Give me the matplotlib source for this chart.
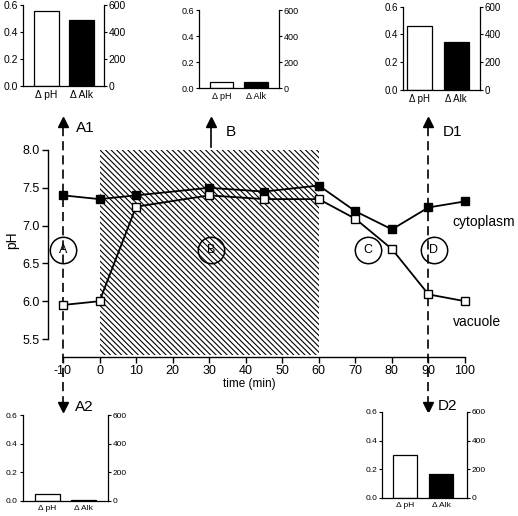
import matplotlib
matplotlib.use('Agg')
import matplotlib.pyplot as plt
import matplotlib.transforms as mtransforms
from matplotlib.patches import Rectangle

plt.rcParams['font.family'] = ['Liberation Sans', 'DejaVu Sans']
plt.rcParams['hatch.linewidth'] = 0.8
plt.rcParams['axes.unicode_minus'] = False

# ---- data ----
time = [-10, 0, 10, 30, 45, 60, 70, 80, 90, 100]
cytoplasm_pH = [7.40, 7.35, 7.40, 7.50, 7.45, 7.53, 7.19, 6.95, 7.24, 7.32]
vacuole_pH = [5.95, 6.00, 7.25, 7.40, 7.35, 7.35, 7.09, 6.69, 6.09, 6.00]
treatment_start, treatment_end = 0, 60
phase_labels = ['A', 'B', 'C', 'D']
phase_times = [-10, 30.5, 73.5, 91.5]
phase_level = 6.68
x_ticks = [-10, 0, 10, 20, 30, 40, 50, 60, 70, 80, 90, 100]
y_ticks = [5.5, 6.0, 6.5, 7.0, 7.5, 8.0]

inset_names = ['A1', 'B', 'D1', 'A2', 'D2']
bar_labels = ['Δ pH', 'Δ Alk']
delta_pH = [0.55, 0.05, 0.46, 0.05, 0.30]
delta_alk = [485, 45, 345, 8, 165]
left_ticks = [0.0, 0.2, 0.4, 0.6]
right_ticks = [0, 200, 400, 600]

W, H = 518, 516
fig = plt.figure(figsize=(W / 100, H / 100), dpi=100)


def px_axes(left, top, right, bottom):
    return fig.add_axes([left / W, 1 - bottom / H, (right - left) / W, (bottom - top) / H])


# ---- main axes ----
ax = px_axes(48, 145, 480, 357)
ax.set_xlim(-14.1, 104.1)
ax.set_ylim(5.262, 8.066)
ax.patch.set_alpha(0)

ax.add_patch(Rectangle((treatment_start, 5.29), treatment_end - treatment_start, 8.0 - 5.29,
                       fill=False, hatch='\\\\\\\\\\\\', edgecolor='black', linewidth=0, zorder=1))

ax.plot(time, cytoplasm_pH, '-s', color='black', mfc='black', mec='black', ms=5.5,
        lw=1.3, clip_on=False, zorder=4)
ax.plot(time, vacuole_pH, '-s', color='black', mfc='white', mec='black', ms=5.5, mew=1.0,
        lw=1.3, clip_on=False, zorder=4)

ax.plot(phase_times, [phase_level] * len(phase_times), 'o', mfc='none', mec='black',
        ms=19, mew=1.1, zorder=3)
for t, lab in zip(phase_times, phase_labels):
    ax.text(t, phase_level, lab, ha='center', va='center', fontsize=9, zorder=5)

for s in ['top', 'right']:
    ax.spines[s].set_visible(False)
ax.spines['left'].set_bounds(5.5, 8.0)
ax.spines['bottom'].set_bounds(-10, 100)
for s in ['left', 'bottom']:
    ax.spines[s].set_linewidth(1.0)
ax.set_xticks(x_ticks)
ax.set_yticks(y_ticks)
ax.set_yticklabels([f'{v:.1f}' for v in y_ticks])
ax.tick_params(direction='out', length=4, width=1.0, labelsize=9, pad=2)

ax.text(96.6, 7.05, 'cytoplasm', ha='left', va='center', fontsize=10)
ax.text(96.6, 5.725, 'vacuole', ha='left', va='center', fontsize=10)

trans = mtransforms.blended_transform_factory(ax.transData, ax.transAxes)


def fy(py):
    return (357 - py) / 212.0


ax.text(41, fy(384), 'time (min)', transform=trans, ha='center', va='center', fontsize=8.5)
fig.text(12 / W, 1 - 240 / H, 'pH', rotation=90, ha='center', va='center', fontsize=10)

# arrows
for xt in [-10, 90]:
    ax.plot([xt, xt], [fy(127), fy(402)], transform=trans, color='black', lw=1.2,
            linestyle=(0, (5.5, 3)), clip_on=False, zorder=2)
    ax.plot([xt], [fy(122)], '^', transform=trans, color='black', ms=7, clip_on=False)
    ax.plot([xt], [fy(407)], 'v', transform=trans, color='black', ms=7, clip_on=False)
ax.plot([30.5, 30.5], [fy(147), fy(127)], transform=trans, color='black', lw=1.2, clip_on=False)
ax.plot([30.5], [fy(122)], '^', transform=trans, color='black', ms=7, clip_on=False)

ax.text(-6.5, fy(128), 'A1', transform=trans, ha='left', va='center', fontsize=11)
ax.text(34.5, fy(132), 'B', transform=trans, ha='left', va='center', fontsize=11)
ax.text(93.8, fy(132), 'D1', transform=trans, ha='left', va='center', fontsize=11)
ax.text(-6.8, fy(407), 'A2', transform=trans, ha='left', va='center', fontsize=11)
ax.text(92.5, fy(406), 'D2', transform=trans, ha='left', va='center', fontsize=11)

# ---- insets ----
inset_layout = {
    'A1': dict(box=(22.7, 4.7, 104, 86), xlim=(-0.69, 1.66), width=0.72, fs=7.5),
    'B': dict(box=(199, 10, 279, 88), xlim=(-0.66, 1.68), width=0.69, fs=6.5),
    'D1': dict(box=(402.7, 6.7, 480, 90), xlim=(-0.44, 1.64), width=0.67, fs=7),
    'A2': dict(box=(22.7, 415, 108, 500.7), xlim=(-0.68, 1.68), width=0.68, fs=6),
    'D2': dict(box=(382, 412, 467, 497.7), xlim=(-0.635, 1.715), width=0.68, fs=6),
}

for name, dp, da in zip(inset_names, delta_pH, delta_alk):
    lay = inset_layout[name]
    a = px_axes(*lay['box'])
    a.bar([0], [dp], lay['width'], color='white', edgecolor='black', linewidth=0.9)
    a2 = a.twinx()
    a2.bar([1], [da], lay['width'], color='black', edgecolor='black', linewidth=0.9)
    a.set_xlim(*lay['xlim'])
    a.set_ylim(0, 0.6)
    a2.set_ylim(0, 600)
    a.set_yticks(left_ticks)
    a.set_yticklabels([f'{v:.1f}' for v in left_ticks])
    a2.set_yticks(right_ticks)
    a.set_xticks([0, 1])
    a.set_xticklabels(bar_labels)
    for s in ['top', 'right']:
        a.spines[s].set_visible(False)
    for s in ['top', 'left', 'bottom']:
        a2.spines[s].set_visible(False)
    for sp in list(a.spines.values()) + list(a2.spines.values()):
        sp.set_linewidth(0.9)
    a.tick_params(axis='y', direction='out', length=2.5, width=0.8, labelsize=lay['fs'], pad=1)
    a2.tick_params(axis='y', direction='out', length=2.5, width=0.8, labelsize=lay['fs'], pad=1)
    a.tick_params(axis='x', length=0, labelsize=lay['fs'], pad=3)

fig.savefig('out.png', dpi=100)
